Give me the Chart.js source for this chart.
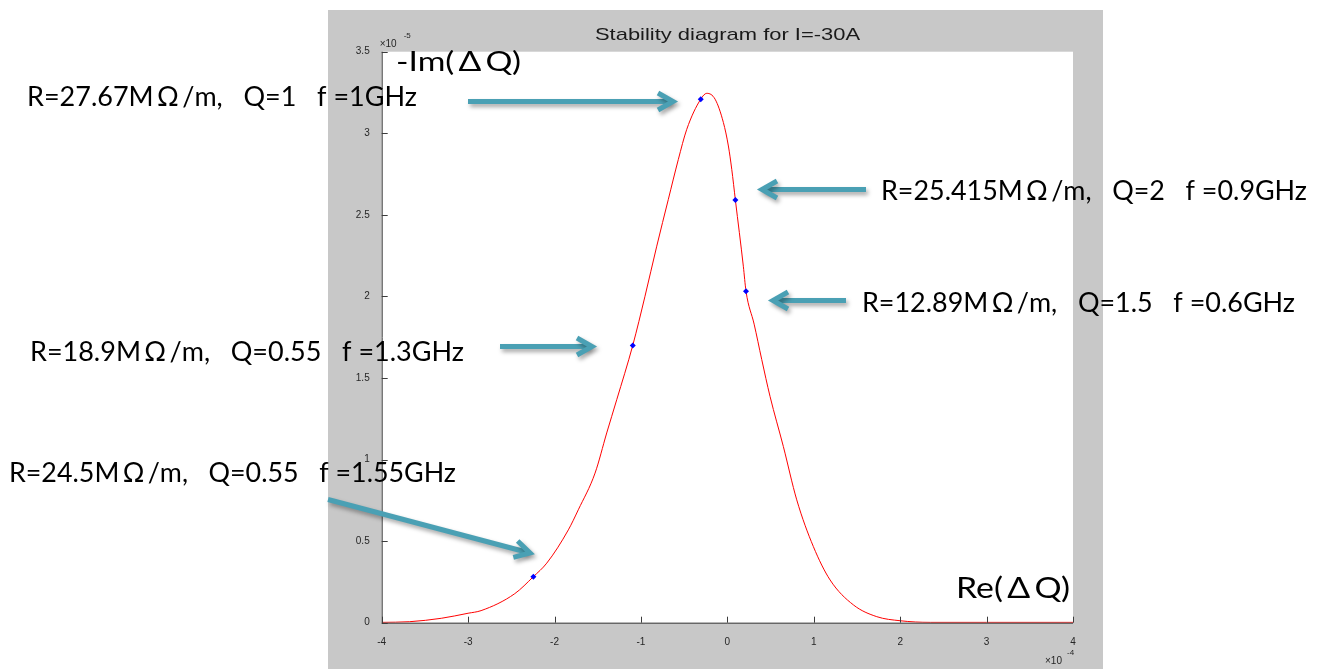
<!DOCTYPE html>
<html>
<head>
<meta charset="utf-8">
<script src="https://cdn.jsdelivr.net/npm/chart.js@4/dist/chart.umd.min.js"></script>
<style>
    html, body { margin: 0; padding: 0; background: #ffffff; }
    #wrap { position: relative; width: 1322px; height: 669px; }
</style>
</head>
<body>
<div id="wrap"><canvas id="stabilityChart" width="1322" height="669"></canvas></div>
<script>
// Re(dQ) in units of 1e-4, -Im(dQ) in units of 1e-5 (as on the axes)
const reDQ = [-4.0, -3.68, -3.31, -3.0, -2.85, -2.46, -2.245, -2.09, -1.84, -1.725, -1.531, -1.396, -1.28, -1.095,
    -0.953, -0.817, -0.683, -0.567, -0.47, -0.308, -0.238, -0.142, -0.046, 0.012, 0.051, 0.093, 0.185, 0.216,
    0.31, 0.398, 0.494, 0.648, 0.803, 0.995, 1.189, 1.459, 1.729, 2.0, 2.35, 3.0, 4.0];
const imDQ = [0.002, 0.006, 0.027, 0.058, 0.074, 0.178, 0.282, 0.365, 0.569, 0.692, 0.917, 1.163, 1.367, 1.699,
    2.001, 2.308, 2.595, 2.84, 3.024, 3.209, 3.245, 3.209, 3.066, 2.922, 2.779, 2.591, 2.185, 2.032,
    1.83, 1.613, 1.387, 1.080, 0.753, 0.467, 0.262, 0.109, 0.037, 0.012, 0.002, 0.002, 0.002];

// marked impedance cases
const markRe = [-0.308, 0.093, 0.216, -1.095, -2.245];
const markIm = [3.209, 2.591, 2.032, 1.699, 0.282];
const markLabels = [
    'R=27.67M\u2009\u03A9\u2009/m,   Q=1   f =1GHz',
    'R=25.415M\u2009\u03A9\u2009/m,   Q=2   f =0.9GHz',
    'R=12.89M\u2009\u03A9\u2009/m,   Q=1.5   f =0.6GHz',
    'R=18.9M\u2009\u03A9\u2009/m,   Q=0.55   f =1.3GHz',
    'R=24.5M\u2009\u03A9\u2009/m,   Q=0.55   f =1.55GHz'
];

const xTicks = [-4, -3, -2, -1, 0, 1, 2, 3, 4];
const yTicks = [0, 0.5, 1, 1.5, 2, 2.5, 3, 3.5];

// label boxes: x, baseline, width ; arrows: from -> tip (page pixels)
const labelPos = [[27, 106, 390], [881, 200, 426], [862, 311.5, 433], [30, 361, 434], [9, 482, 447]];
const arrowPos = [[468, 101.5, 673, 101.5], [866, 189.5, 762, 189.5], [846, 300.5, 773, 300.5],
    [500, 346.5, 592, 346.5], [328, 499.5, 530, 553]];

const GRAY = '#c8c8c8';
const TEAL = '#4aa0b4';

function fitText(ctx, txt, x, y, width, font) {
    ctx.font = font;
    const w = ctx.measureText(txt).width;
    ctx.save();
    ctx.translate(x, y);
    ctx.scale(width / w, 1);
    ctx.fillText(txt, 0, 0);
    ctx.restore();
}

function drawArrow(ctx, x0, y0, x1, y1) {
    const a = Math.atan2(y1 - y0, x1 - x0);
    const hl = 15, hw = 8.5;
    ctx.save();
    ctx.strokeStyle = TEAL;
    ctx.lineWidth = 5;
    ctx.lineJoin = 'miter';
    ctx.shadowColor = 'rgba(0,0,0,0.35)';
    ctx.shadowBlur = 4;
    ctx.shadowOffsetX = 2;
    ctx.shadowOffsetY = 3;
    ctx.beginPath();
    ctx.moveTo(x0, y0);
    ctx.lineTo(x1 - 3 * Math.cos(a), y1 - 3 * Math.sin(a));
    ctx.stroke();
    ctx.beginPath();
    ctx.moveTo(x1 - hl * Math.cos(a) + hw * Math.sin(a), y1 - hl * Math.sin(a) - hw * Math.cos(a));
    ctx.lineTo(x1, y1);
    ctx.lineTo(x1 - hl * Math.cos(a) - hw * Math.sin(a), y1 - hl * Math.sin(a) + hw * Math.cos(a));
    ctx.stroke();
    ctx.restore();
}

const figurePlugin = {
    id: 'figure',
    beforeDraw(chart) {
        const ctx = chart.ctx;
        const a = chart.chartArea;
        ctx.save();
        ctx.fillStyle = '#ffffff';
        ctx.fillRect(0, 0, chart.width, chart.height);
        ctx.fillStyle = GRAY;
        ctx.fillRect(328, 10, 775, 659);
        ctx.fillStyle = '#ffffff';
        ctx.fillRect(a.left, a.top, a.right - a.left, a.bottom - a.top);
        ctx.restore();
    },
    afterDraw(chart) {
        const ctx = chart.ctx;
        const a = chart.chartArea;
        const xs = chart.scales.x, ys = chart.scales.y;
        ctx.save();

        // axis lines with inward ticks (matlab style)
        ctx.strokeStyle = '#3c3c3c';
        ctx.lineWidth = 1;
        ctx.beginPath();
        ctx.moveTo(a.left + 0.5, a.top);
        ctx.lineTo(a.left + 0.5, a.bottom + 0.5);
        ctx.lineTo(a.right, a.bottom + 0.5);
        xTicks.forEach(v => {
            const px = Math.round(xs.getPixelForValue(v)) + 0.5;
            ctx.moveTo(px, a.bottom);
            ctx.lineTo(px, a.bottom - 6);
        });
        yTicks.forEach(v => {
            const py = Math.round(ys.getPixelForValue(v)) + 0.5;
            ctx.moveTo(a.left, py);
            ctx.lineTo(a.left + 6, py);
        });
        ctx.stroke();

        // exponent labels
        ctx.fillStyle = '#262626';
        ctx.textBaseline = 'alphabetic';
        ctx.font = '10px "Liberation Sans", Arial, sans-serif';
        ctx.fillText('\u00D710', a.left - 2, a.top - 5);
        ctx.fillText('\u00D710', a.right - 28, a.bottom + 41);
        ctx.font = '8px "Liberation Sans", Arial, sans-serif';
        ctx.fillText('-5', a.left + 22, a.top - 14);
        ctx.fillText('-4', a.right - 6, a.bottom + 32);

        // title
        ctx.fillStyle = '#1a1a1a';
        fitText(ctx, 'Stability diagram for I=-30A', 595, 40, 265, '17px "Liberation Sans", Arial, sans-serif');

        // axis names placed inside the axes
        ctx.fillStyle = '#000000';
        fitText(ctx, '-Im(\u2009\u0394\u2009Q)', 396, 71, 125, '27px Lato, "Open Sans", sans-serif');
        fitText(ctx, 'Re(\u2009\u0394\u2009Q)', 956, 598, 114, '28px Lato, "Open Sans", sans-serif');

        // arrows and case labels
        arrowPos.forEach(p => drawArrow(ctx, p[0], p[1], p[2], p[3]));
        ctx.fillStyle = '#000000';
        markLabels.forEach((t, i) => {
            const p = labelPos[i];
            fitText(ctx, t, p[0], p[1], p[2], '26px Lato, "Open Sans", sans-serif');
        });
        ctx.restore();
    }
};

const tickFont = { family: '"Liberation Sans", Arial, sans-serif', size: 10 };

new Chart(document.getElementById('stabilityChart'), {
    type: 'scatter',
    data: {
        datasets: [{
            label: 'cases',
            data: markRe.map((x, i) => ({ x: x, y: markIm[i] })),
            pointStyle: 'rectRot',
            pointRadius: 3,
            backgroundColor: '#0000ff',
            borderColor: '#0000ff',
            borderWidth: 0,
            showLine: false
        }, {
            label: 'stability',
            data: reDQ.map((x, i) => ({ x: x, y: imDQ[i] })),
            showLine: true,
            borderColor: '#ff0000',
            borderWidth: 1,
            pointRadius: 0,
            cubicInterpolationMode: 'monotone',
            fill: false
        }]
    },
    options: {
        responsive: false,
        animation: false,
        layout: { padding: { left: 331.7, right: 249, top: 51.7, bottom: 16.3 } },
        plugins: {
            legend: { display: false },
            tooltip: { enabled: false },
            title: { display: false }
        },
        scales: {
            x: {
                type: 'linear',
                min: -4,
                max: 4,
                afterBuildTicks: s => { s.ticks = xTicks.map(v => ({ value: v })); },
                afterFit: s => { s.height = 30; },
                grid: { display: false },
                border: { display: false },
                ticks: {
                    font: tickFont,
                    color: '#262626',
                    padding: 6,
                    maxRotation: 0,
                    callback: v => String(v)
                }
            },
            y: {
                type: 'linear',
                min: 0,
                max: 3.5,
                afterBuildTicks: s => { s.ticks = yTicks.map(v => ({ value: v })); },
                afterFit: s => { s.width = 50; },
                grid: { display: false },
                border: { display: false },
                ticks: {
                    font: tickFont,
                    color: '#262626',
                    padding: 4,
                    callback: v => String(v)
                }
            }
        }
    },
    plugins: [figurePlugin]
});
</script>
</body>
</html>
